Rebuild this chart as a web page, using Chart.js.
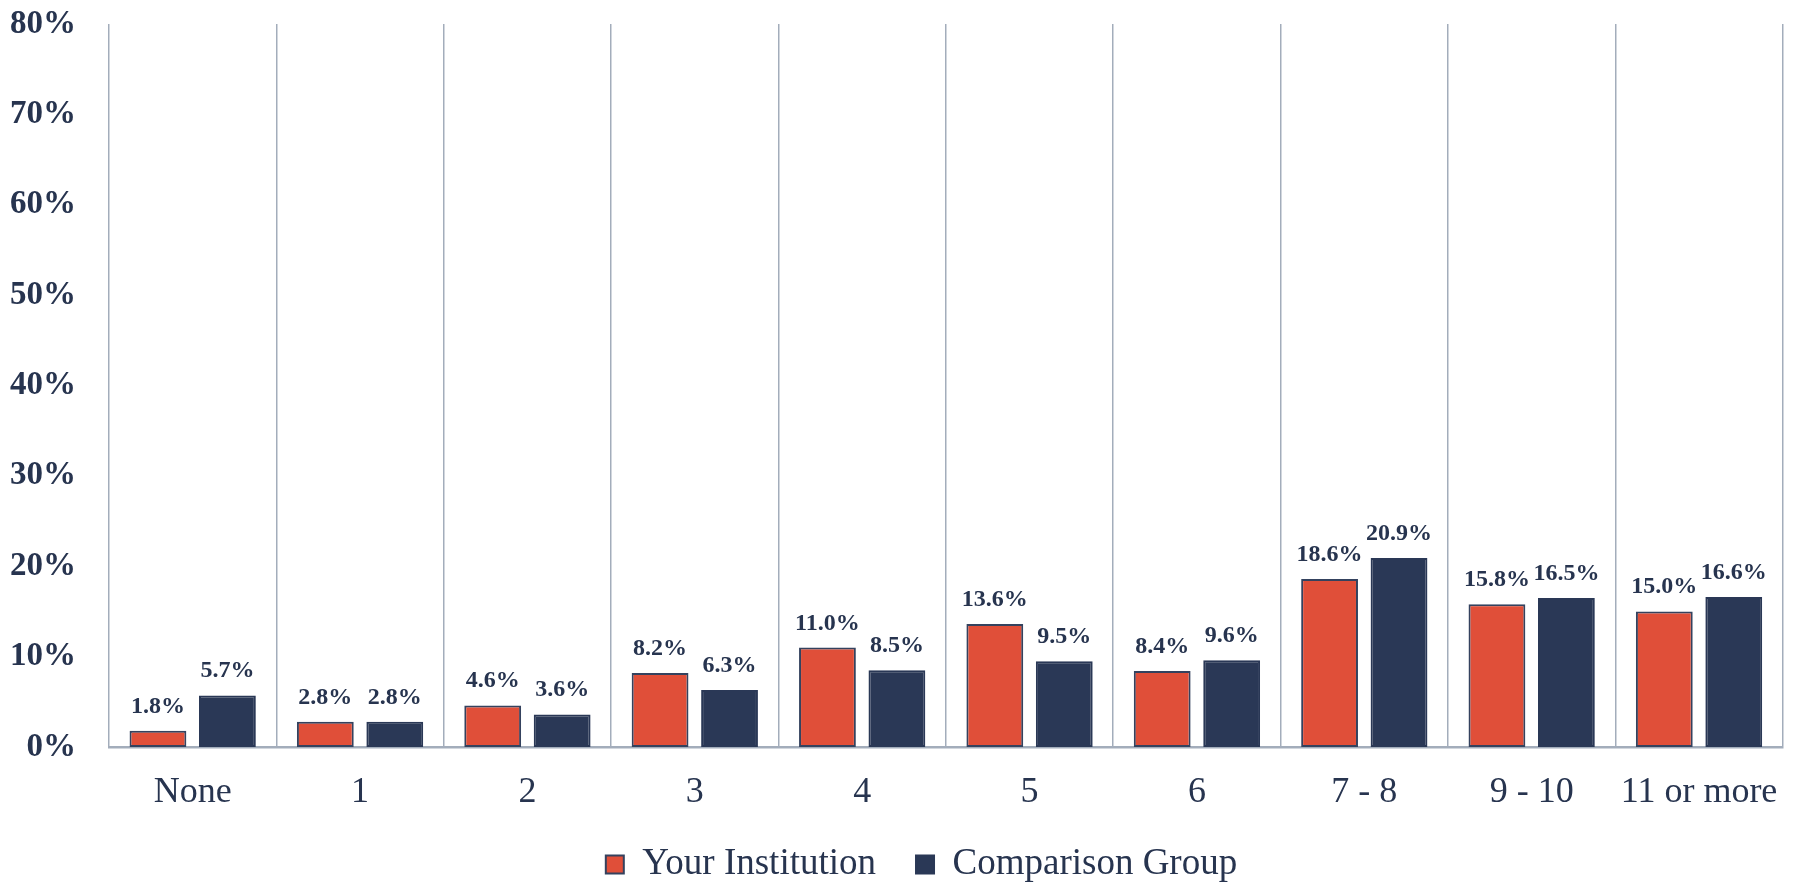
<!DOCTYPE html>
<html>
<head>
<meta charset="utf-8">
<script src="https://cdn.jsdelivr.net/npm/chart.js@4.4.1/dist/chart.umd.min.js"></script>
<style>
  html, body { margin: 0; padding: 0; background: #ffffff; overflow: hidden; }
  #wrap { width: 1802px; height: 893px; position: relative; }
</style>
</head>
<body>
<div id="wrap"><canvas id="c"></canvas></div>
<script>
const categories = ["None", "1", "2", "3", "4", "5", "6", "7 - 8", "9 - 10", "11 or more"];
const yourInstitution = [1.8, 2.8, 4.6, 8.2, 11.0, 13.6, 8.4, 18.6, 15.8, 15.0];
const comparisonGroup = [5.7, 2.8, 3.6, 6.3, 8.5, 9.5, 9.6, 20.9, 16.5, 16.6];
const seriesNames = ["Your Institution", "Comparison Group"];
const yTicks = [0, 10, 20, 30, 40, 50, 60, 70, 80];

const TEXT = "#27344f";
const RED = "#e04f39";
const NAVY = "#2a3856";
const GRID = "#a3adbb";
const SERIF = "'Liberation Serif', 'Times New Roman', serif";

const valueLabels = {
  id: "valueLabels",
  afterDatasetsDraw(chart) {
    const ctx = chart.ctx;
    ctx.save();
    ctx.font = "bold 24px " + SERIF;
    ctx.fillStyle = TEXT;
    ctx.textAlign = "center";
    ctx.textBaseline = "alphabetic";
    chart.data.datasets.forEach((ds, di) => {
      const meta = chart.getDatasetMeta(di);
      meta.data.forEach((bar, i) => {
        const v = ds.data[i];
        ctx.fillText(v.toFixed(1) + "%", bar.x, bar.y - 18);
      });
    });
    ctx.restore();
  }
};

// centre the legend slightly right of the canvas centre, as in the reference
const legendShift = {
  id: "legendShift",
  afterLayout(chart) {
    if (chart.legend) { chart.legend.left = 54; }
  }
};

new Chart(document.getElementById("c"), {
  type: "bar",
  data: {
    labels: categories,
    datasets: [
      { label: seriesNames[0], data: yourInstitution, backgroundColor: RED, borderColor: "#34425e", borderWidth: 2, borderSkipped: false },
      { label: seriesNames[1], data: comparisonGroup, backgroundColor: NAVY, borderColor: NAVY, borderWidth: 2, borderSkipped: false }
    ]
  },
  options: {
    responsive: true,
    maintainAspectRatio: false,
    animation: false,
    devicePixelRatio: 1,
    categoryPercentage: 0.83,
    barPercentage: 0.818,
    layout: { padding: { top: 0, right: 13, left: 0, bottom: 0 } },
    plugins: {
      legend: {
        position: "bottom",
        labels: {
          color: TEXT,
          font: { family: SERIF, size: 37 },
          boxWidth: 18,
          boxHeight: 18,
          padding: 40
        }
      },
      tooltip: { enabled: false }
    },
    scales: {
      x: {
        grid: { display: true, offset: true, color: GRID, lineWidth: 1.5, drawTicks: false },
        border: { display: true, color: GRID, width: 2.5 },
        ticks: { color: TEXT, font: { family: SERIF, size: 36 }, padding: 24, maxRotation: 0 },
        afterFit(scale) { scale.height = 59; }
      },
      y: {
        min: 0,
        max: 80,
        afterBuildTicks(scale) { scale.ticks = yTicks.map(v => ({ value: v })); },
        grid: { display: false, drawTicks: false },
        border: { display: false },
        ticks: {
          color: TEXT,
          font: { family: SERIF, size: 33, weight: "bold" },
          padding: 33,
          callback: v => v + "%"
        },
        afterFit(scale) {
          scale.width = 109;
          scale.paddingTop = 24;
          scale.paddingBottom = 0;
        }
      }
    }
  },
  plugins: [valueLabels, legendShift]
});
</script>
</body>
</html>
